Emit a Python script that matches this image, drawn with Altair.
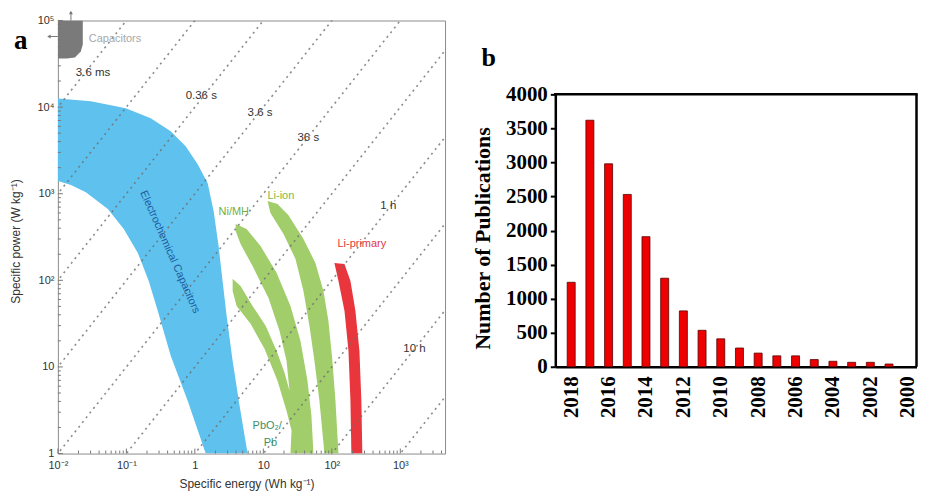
import altair as alt
import pandas as pd

# ---------------- Panel a : Ragone plot ----------------
# Specific energy E (Wh/kg) and specific power P (W/kg)
cap_E = [0.01, 0.0231, 0.0231, 0.0216, 0.0177, 0.0135, 0.01]
cap_P = [100000, 100000, 52800, 44000, 37500, 36500, 36500]

ec_E = [0.01, 0.0303, 0.098, 0.227, 0.444, 0.734, 1.10, 1.54, 1.88, 2.22, 2.54, 2.91, 3.56, 4.50, 5.89,
        1.44, 0.785, 0.444, 0.287, 0.212, 0.147, 0.0916, 0.0536, 0.0256, 0.0155, 0.01]
ec_P = [12600, 11700, 9690, 7430, 5260, 3530, 2190, 1320, 630, 249, 98, 38.9, 11.8, 3.57, 1,
        1, 4.08, 13.5, 44.4, 98, 207, 391, 665, 1040, 1260, 1400]

nimh_pb_E = [3.94, 5.69, 9.10, 15.6, 24.9, 34.8, 44.1, 50.4, 53.9, 24.9, 25.8, 21.8, 16.1, 10.4, 6.51,
             4.07, 3.56, 3.56, 4.65, 6.96, 10.8, 15.6, 20.4, 24.1, 21.8, 17.2, 11.9, 6.96, 4.65, 3.94]
nimh_pb_P = [446, 391, 249, 122, 50.7, 20.0, 6.93, 2.74, 1, 1, 1.84, 3.13, 6.93, 16.2, 31.5,
             50.7, 75.4, 104, 86, 50.7, 29.8, 15.4, 8.57, 5.32, 11.8, 26.1, 62.7, 146, 262, 371]

liion_E = [11.5, 12.7, 19.7, 29.4, 38.5, 47.1, 55.7, 65.9, 78.0, 125, 113, 102, 89.2, 75.5, 57.6, 38.5, 23.3, 16.1]
liion_P = [822, 597, 343, 177, 75.4, 29.8, 11.8, 4.08, 1, 1, 4.08, 11.8, 34.0, 75.4, 159, 300, 566, 759]

liprim_E = [109, 125, 153, 175, 187, 193, 279, 270, 253, 221, 187, 153]
liprim_P = [159, 98.4, 44.4, 15.4, 4.08, 1, 1, 4.08, 15.4, 44.4, 98.4, 154]

shape_names = ["Capacitors", "EC", "NiMH_Pb", "Li-ion", "Li-primary"]
shape_colors = ["#7a7a7a", "#5fc2ee", "#a1ce6a", "#a1ce6a", "#e8363c"]

# constant discharge-time lines (hours)
times_h = [1e-6, 1e-5, 1e-4, 1e-3, 1e-2, 1e-1, 1, 10, 100, 1000]
line_E_ends = [0.001, 100000]

time_labels = ["3.6 ms", "0.36 s", "3.6 s", "36 s", "1 h", "10 h"]
time_lab_E = [0.0183, 0.734, 5.89, 31.5, 511, 1107]
time_lab_P = [24500, 13300, 8490, 4380, 719, 16.2]

tech_labels = ["Capacitors", "Ni/MH", "Li-ion", "Li-primary", "PbO\u2082/", "Pb"]
tech_lab_E = [0.0283, 2.22, 11.5, 121, 6.96, 10.1]
tech_lab_P = [60400, 614, 938, 262, 2.10, 1.34]
tech_lab_col = ["#a8a8a8", "#6fae3f", "#7dba45", "#e0393e", "#3c8f67", "#3c8f67"]

x_dec = [0.01, 0.1, 1, 10, 100, 1000]
x_dec_lab = ["10\u207b\u00b2", "10\u207b\u00b9", "1", "10", "10\u00b2", "10\u00b3"]
y_dec = [1, 10, 100, 1000, 10000, 100000]
y_dec_lab = ["1", "10", "10\u00b2", "10\u00b3", "10\u2074", "10\u2075"]

# ---------------- Panel b : publications ----------------
years = list(range(2018, 2000, -1))
pubs = [1240, 3620, 2980, 2530, 1910, 1300, 820, 535, 410, 275, 200, 160, 160, 105, 80, 65, 65, 40]
year_ticks = list(range(2018, 1999, -2))
year_domain = [1999.53, 2018.85]
pub_domain = [0, 4000]

# ======================================================
SANS = "Liberation Sans Narrow, Arimo, Liberation Sans, Arial, sans-serif"
SERIF = "Times New Roman, Liberation Serif, serif"
W_A, H_A = 388, 434
# panel b shares the row origin with panel a (page y = 19); its frame spans y 74..347 of the panel
W_B, H_B = 362, 347
B_TOP = 74


def label_expr(vals, labs):
    expr = "''"
    for v, l in reversed(list(zip(vals, labs))):
        expr = f"datum.value == {v} ? '{l}' : {expr}"
    return expr


X_A = alt.X("E:Q",
            scale=alt.Scale(type="log", domain=[0.01, 4500], nice=False),
            axis=alt.Axis(values=x_dec, labelExpr=label_expr(x_dec, x_dec_lab), ticks=False,
                          domain=False, grid=False, labelPadding=6, labelFont=SANS, labelFontSize=11,
                          labelColor="#333", labelOverlap=False, labelFlush=False,
                          title="Specific energy (Wh kg\u207b\u00b9)", titleFont=SANS, titleFontSize=12,
                          titleFontWeight="normal", titleColor="#333", titleX=189, titleY=34,
                          titleAlign="center", titleBaseline="alphabetic"))
Y_A = alt.Y("P:Q",
            scale=alt.Scale(type="log", domain=[1, 100000], nice=False),
            axis=alt.Axis(values=y_dec, labelExpr=label_expr(y_dec, y_dec_lab), ticks=False,
                          domain=False, grid=False, labelPadding=4, labelFont=SANS, labelFontSize=11,
                          labelColor="#333", labelOverlap=False, labelFlush=False,
                          title="Specific power (W kg\u207b\u00b9)", titleFont=SANS, titleFontSize=12,
                          titleFontWeight="normal", titleColor="#333", titleX=-42, titleY=221,
                          titleAngle=-90, titleAlign="center", titleBaseline="middle"))

rows = []
for name, Es, Ps in [("Capacitors", cap_E, cap_P), ("EC", ec_E, ec_P), ("NiMH_Pb", nimh_pb_E, nimh_pb_P),
                     ("Li-ion", liion_E, liion_P), ("Li-primary", liprim_E, liprim_P)]:
    for i, (e, p) in enumerate(zip(Es, Ps)):
        rows.append({"shape": name, "i": i, "E": e, "P": p})
poly_df = pd.DataFrame(rows)

polys = alt.Chart(poly_df).mark_line(filled=True, clip=True, strokeWidth=0).encode(
    x=X_A, y=Y_A,
    color=alt.Color("shape:N", scale=alt.Scale(domain=shape_names, range=shape_colors), legend=None),
    order=alt.Order("i:Q"),
)

lrows = []
for t in times_h:
    for e in line_E_ends:
        lrows.append({"t": t, "E": e, "P": e / t})
lines_df = pd.DataFrame(lrows)
tlines = alt.Chart(lines_df).mark_line(clip=True, color="#6e6e6e", strokeWidth=1.6,
                                       strokeDash=[2, 4], opacity=0.8).encode(
    x=X_A, y=Y_A, detail="t:N")

tl_df = pd.DataFrame({"text": time_labels, "E": time_lab_E, "P": time_lab_P})
tlabels = alt.Chart(tl_df).mark_text(align="left", baseline="middle", font=SANS, fontSize=11.5,
                                      color="#333").encode(x=X_A, y=Y_A, text="text:N")

tech_df = pd.DataFrame({"text": tech_labels, "E": tech_lab_E, "P": tech_lab_P, "col": tech_lab_col})
techlabels = alt.Chart(tech_df).mark_text(align="left", baseline="middle", font=SANS, fontSize=11).encode(
    x=X_A, y=Y_A, text="text:N", color=alt.Color("col:N", scale=None))

ec_lab = alt.Chart(pd.DataFrame({"text": ["Electrochemical Capacitors"], "E": [0.43], "P": [212]})).mark_text(
    align="center", baseline="middle", angle=66, font=SANS, fontSize=11, color="#1d5d9e").encode(
    x=X_A, y=Y_A, text="text:N")

x_minor = [m * 10.0 ** k for k in range(-2, 4) for m in range(2, 10) if m * 10.0 ** k <= 4500]
y_minor = [m * 10.0 ** k for k in range(0, 5) for m in range(2, 10)]
xmaj = alt.Chart(pd.DataFrame({"E": x_dec})).mark_rule(color="#777", strokeWidth=1).encode(
    x=X_A, y=alt.value(H_A), y2=alt.value(H_A - 5))
xmin = alt.Chart(pd.DataFrame({"E": x_minor})).mark_rule(color="#777", strokeWidth=1).encode(
    x=X_A, y=alt.value(H_A), y2=alt.value(H_A - 3))
ymaj = alt.Chart(pd.DataFrame({"P": y_dec})).mark_rule(color="#777", strokeWidth=1).encode(
    y=Y_A, x=alt.value(0), x2=alt.value(5))
ymin = alt.Chart(pd.DataFrame({"P": y_minor})).mark_rule(color="#777", strokeWidth=1).encode(
    y=Y_A, x=alt.value(0), x2=alt.value(3))

one = pd.DataFrame({"k": [0]})
# arrows of the capacitor box (outside the frame)
up_arrow = alt.Chart(pd.DataFrame({"E": [0.0155]})).mark_rule(color="#777", strokeWidth=1, clip=False).encode(
    x=X_A, y=alt.value(0), y2=alt.value(-8))
up_head = alt.Chart(pd.DataFrame({"E": [0.0155]})).mark_point(shape="triangle-up", filled=True, size=16,
                                                              color="#777", opacity=1).encode(
    x=X_A, y=alt.value(-8))
left_arrow = alt.Chart(pd.DataFrame({"P": [65400]})).mark_rule(color="#777", strokeWidth=1).encode(
    y=Y_A, x=alt.value(0), x2=alt.value(-9))
left_head = alt.Chart(pd.DataFrame({"P": [65400]})).mark_point(shape="triangle-left", filled=True, size=16,
                                                               color="#777", opacity=1).encode(
    y=Y_A, x=alt.value(-9))
letter_a = alt.Chart(one).mark_text(text="a", align="left", baseline="alphabetic", font=SERIF,
                                    fontSize=27, fontWeight="bold", color="black").encode(
    x=alt.value(-44), y=alt.value(29))
pin_a = alt.Chart(one).mark_rule(stroke="white", strokeOpacity=0).encode(
    x=alt.value(-49), x2=alt.value(-48), y=alt.value(-11), y2=alt.value(-11))

panel_a = alt.layer(polys, tlines, xmaj, xmin, ymaj, ymin, tlabels, techlabels, ec_lab,
                    up_arrow, up_head, left_arrow, left_head, letter_a, pin_a).properties(
    width=W_A, height=H_A, view=alt.ViewBackground(stroke="#8c8c8c", strokeWidth=1, fill="white"))

# ---------------- panel b ----------------
pub_df = pd.DataFrame({"year": years, "n": pubs})
X_B = alt.X("year:Q",
            scale=alt.Scale(domain=year_domain, reverse=True, nice=False, zero=False, padding=0),
            axis=alt.Axis(values=year_ticks, format="d", labelAngle=-90, ticks=False, grid=False,
                          domainColor="black", domainWidth=2.5, labelFont=SERIF, labelFontSize=21,
                          labelFontWeight="bold", labelColor="black", labelPadding=9,
                          labelFlush=False, labelOverlap=False, title=None))
Y_B = alt.Y("n:Q",
            scale=alt.Scale(domain=pub_domain, range=[H_B, B_TOP], nice=False, padding=0),
            axis=alt.Axis(values=list(range(0, 4001, 250)),
                          labelExpr="datum.value % 500 === 0 ? format(datum.value, 'd') : ''",
                          tickSize=5, tickWidth=2, tickColor="black", grid=False,
                          domainColor="black", domainWidth=2.5, labelFont=SERIF, labelFontSize=21,
                          labelFontWeight="bold", labelColor="black", labelPadding=3,
                          labelFlush=False, labelOverlap=False,
                          title="Number of Publications", titleFont=SERIF, titleFontSize=22,
                          titleFontWeight="bold", titleColor="black", titleX=-72.5, titleY=218,
                          titleAngle=-90, titleAlign="center", titleBaseline="middle"))

bars = alt.Chart(pub_df).mark_bar(size=8, color="#ee0000", stroke="#5a0000", strokeWidth=0.8).encode(
    x=X_B, y=Y_B)
frame_top = alt.Chart(one).mark_rule(color="black", strokeWidth=2.5).encode(
    y=alt.datum(pub_domain[1]), x=alt.value(-1.2), x2=alt.value(W_B + 1.2))
frame_right = alt.Chart(one).mark_rule(color="black", strokeWidth=2.5).encode(
    x=alt.datum(year_domain[0]), y=alt.datum(pub_domain[0]), y2=alt.datum(pub_domain[1]))
letter_b = alt.Chart(one).mark_text(text="b", align="left", baseline="alphabetic", font=SERIF,
                                    fontSize=26, fontWeight="bold", color="black").encode(
    x=alt.value(-74), y=alt.value(46))
pin_b = alt.Chart(one).mark_rule(stroke="white", strokeOpacity=0).encode(
    x=alt.value(-84), x2=alt.value(-83), y=alt.value(100), y2=alt.value(100))

panel_b = alt.layer(bars, frame_top, frame_right, letter_b, pin_b).properties(
    width=W_B, height=H_B, view=alt.ViewBackground(strokeWidth=0, fill="white"))

# total width kept within the 911 px the page leaves, so the picture is not squeezed
chart = alt.hconcat(panel_a, panel_b, spacing=25.5).properties(padding=0, background="white")

chart.save("out.html", embed_options={"renderer": "svg", "actions": False})
